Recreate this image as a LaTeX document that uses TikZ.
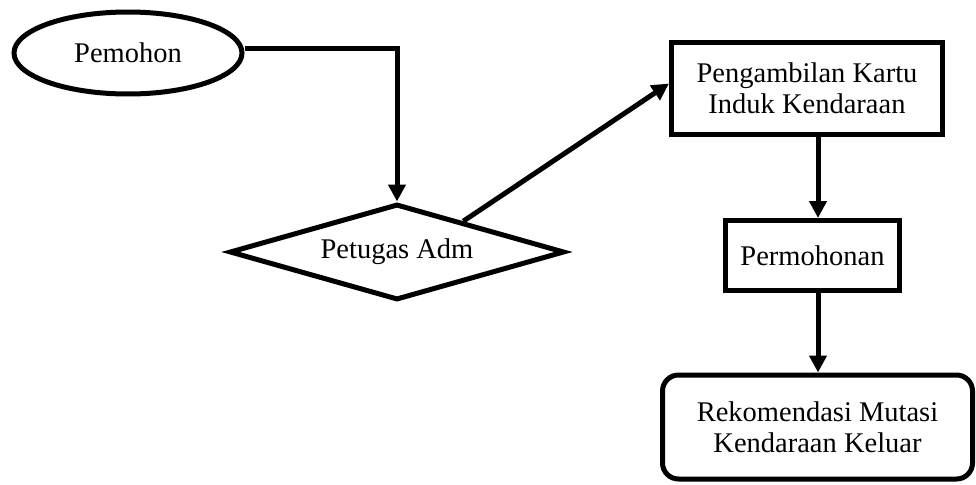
\documentclass[tikz,border=0pt]{standalone}
\usepackage{fontspec}
\setmainfont{Liberation Serif}
\usetikzlibrary{shapes.geometric,arrows.meta,calc}
\begin{document}
\begin{tikzpicture}[x=1pt,y=-1pt,
  every node/.style={font=\fontsize{28.5}{31}\selectfont, align=center, inner sep=0pt, line width=5pt, draw},
  conn/.style={line width=5pt, -{Triangle[length=17pt,width=17pt]}}]
\useasboundingbox (0,0) rectangle (976,484);
\node[ellipse, minimum width=228pt, minimum height=82pt] (pem) at (128,53) {Pemohon};
\node[diamond, aspect=3.4, minimum width=335pt, minimum height=96pt] (adm) at (397,252) {Petugas Adm};
\node[rectangle, minimum width=271pt, minimum height=92pt] (kartu) at (807,88.5) {Pengambilan Kartu\\Induk Kendaraan};
\node[rectangle, minimum width=174pt, minimum height=70pt] (mohon) at (812.5,255.5) {Permohonan};
\node[rectangle, rounded corners=16pt, minimum width=310pt, minimum height=104pt] (rek) at (817.5,427) {Rekomendasi Mutasi\\Kendaraan Keluar};
\draw[conn] ([yshift=4pt]pem.east) -| (adm.north);
\coordinate (a1) at ($(adm.north)!0.39!(adm.east)$);
\draw[conn] (a1) -- ([yshift=5pt]kartu.west);
\draw[conn] (kartu.south -| 818,0) -- (mohon.north -| 818,0);
\draw[conn] (mohon.south -| 818,0) -- (rek.north -| 818,0);
\end{tikzpicture}
\end{document}
